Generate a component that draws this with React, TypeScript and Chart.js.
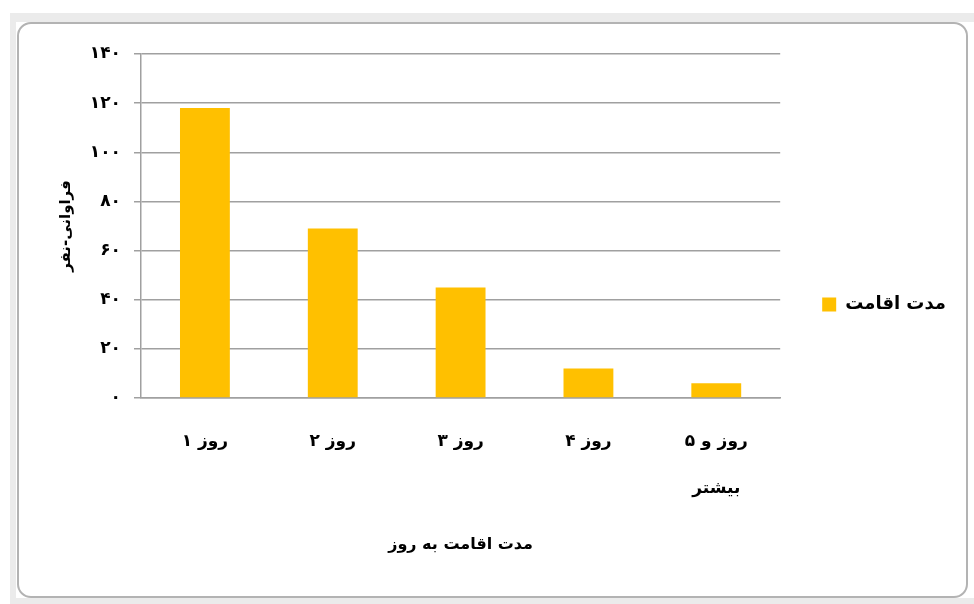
import React, { useEffect, useRef } from "react";
import { Chart, registerables } from "chart.js";

Chart.register(...registerables);

const categories: (string | string[])[] = ["۱ روز", "۲ روز", "۳ روز", "۴ روز", ["۵ روز و", "بیشتر"]];
const stayValues: number[] = [118, 69, 45, 12, 6];
const yTickLabels: string[] = ["۰", "۲۰", "۴۰", "۶۰", "۸۰", "۱۰۰", "۱۲۰", "۱۴۰"];
const seriesName = "مدت اقامت";
const xTitle = "مدت اقامت به روز";
const yTitle = "فراوانی-نفر";

const FONT = "'DejaVu Sans', sans-serif";
const GRID = "#a0a0a0";

export default function App() {
  const ref = useRef<HTMLCanvasElement | null>(null);

  useEffect(() => {
    if (!ref.current) return;
    const chart = new Chart(ref.current, {
      type: "bar",
      data: {
        labels: categories,
        datasets: [
          {
            label: seriesName,
            data: stayValues,
            backgroundColor: "#FFC000",
            borderWidth: 0,
            categoryPercentage: 1,
            barPercentage: 0.39,
          },
        ],
      },
      options: {
        animation: false,
        responsive: false,
        devicePixelRatio: 1,
        layout: { padding: { left: 45, top: 30, right: 12, bottom: 39 } },
        plugins: {
          tooltip: { enabled: false },
          legend: {
            position: "right",
            maxWidth: 187,
            labels: {
              boxWidth: 14,
              boxHeight: 14,
              padding: 42,
              color: "#000",
              font: { family: FONT, size: 18, weight: "bold" },
            },
          },
        },
        scales: {
          x: {
            grid: { display: false, drawTicks: false },
            border: { display: true, color: GRID, width: 1.5 },
            ticks: {
              color: "#000",
              padding: 20,
              maxRotation: 0,
              autoSkip: false,
              font: { family: FONT, size: 17, weight: "bold", lineHeight: 47 / 17 },
            },
            title: {
              display: true,
              text: xTitle,
              color: "#000",
              padding: { top: 3, bottom: 0 },
              font: { family: FONT, size: 16, weight: "bold", lineHeight: 1.25 },
            },
          },
          y: {
            min: 0,
            max: 140,
            afterFit: (scale: any) => {
              scale.width = 84;
            },
            ticks: {
              stepSize: 20,
              color: "#000",
              padding: 13,
              font: { family: FONT, size: 17, weight: "bold" },
              callback: (v: any) => yTickLabels[Math.round(Number(v) / 20)],
            },
            grid: { color: GRID, lineWidth: 1.5, tickLength: 7, drawTicks: true },
            border: { display: true, color: GRID, width: 1.5 },
            title: {
              display: true,
              text: yTitle,
              color: "#000",
              padding: 0,
              font: { family: FONT, size: 15, weight: "bold", lineHeight: 1.2 },
            },
          },
        },
      },
    });
    return () => chart.destroy();
  }, []);

  const strip = "#ebebeb";
  return (
    <div style={{ position: "absolute", left: 0, top: 0, width: 974, height: 604, background: "#fff", overflow: "hidden" }}>
      <div style={{ position: "absolute", left: 10, top: 13, width: 964, height: 9, background: strip }} />
      <div style={{ position: "absolute", left: 10, top: 13, width: 6, height: 591, background: strip }} />
      <div style={{ position: "absolute", left: 10, top: 598, width: 964, height: 6, background: strip }} />
      <div
        style={{
          position: "absolute",
          left: 17,
          top: 22,
          width: 951,
          height: 576,
          boxSizing: "border-box",
          border: "2px solid #b3b3b3",
          borderRadius: 14,
          background: "#fff",
        }}
      />
      <canvas ref={ref} width={956} height={570} style={{ position: "absolute", left: 12, top: 24, width: 956, height: 570 }} />
    </div>
  );
}
